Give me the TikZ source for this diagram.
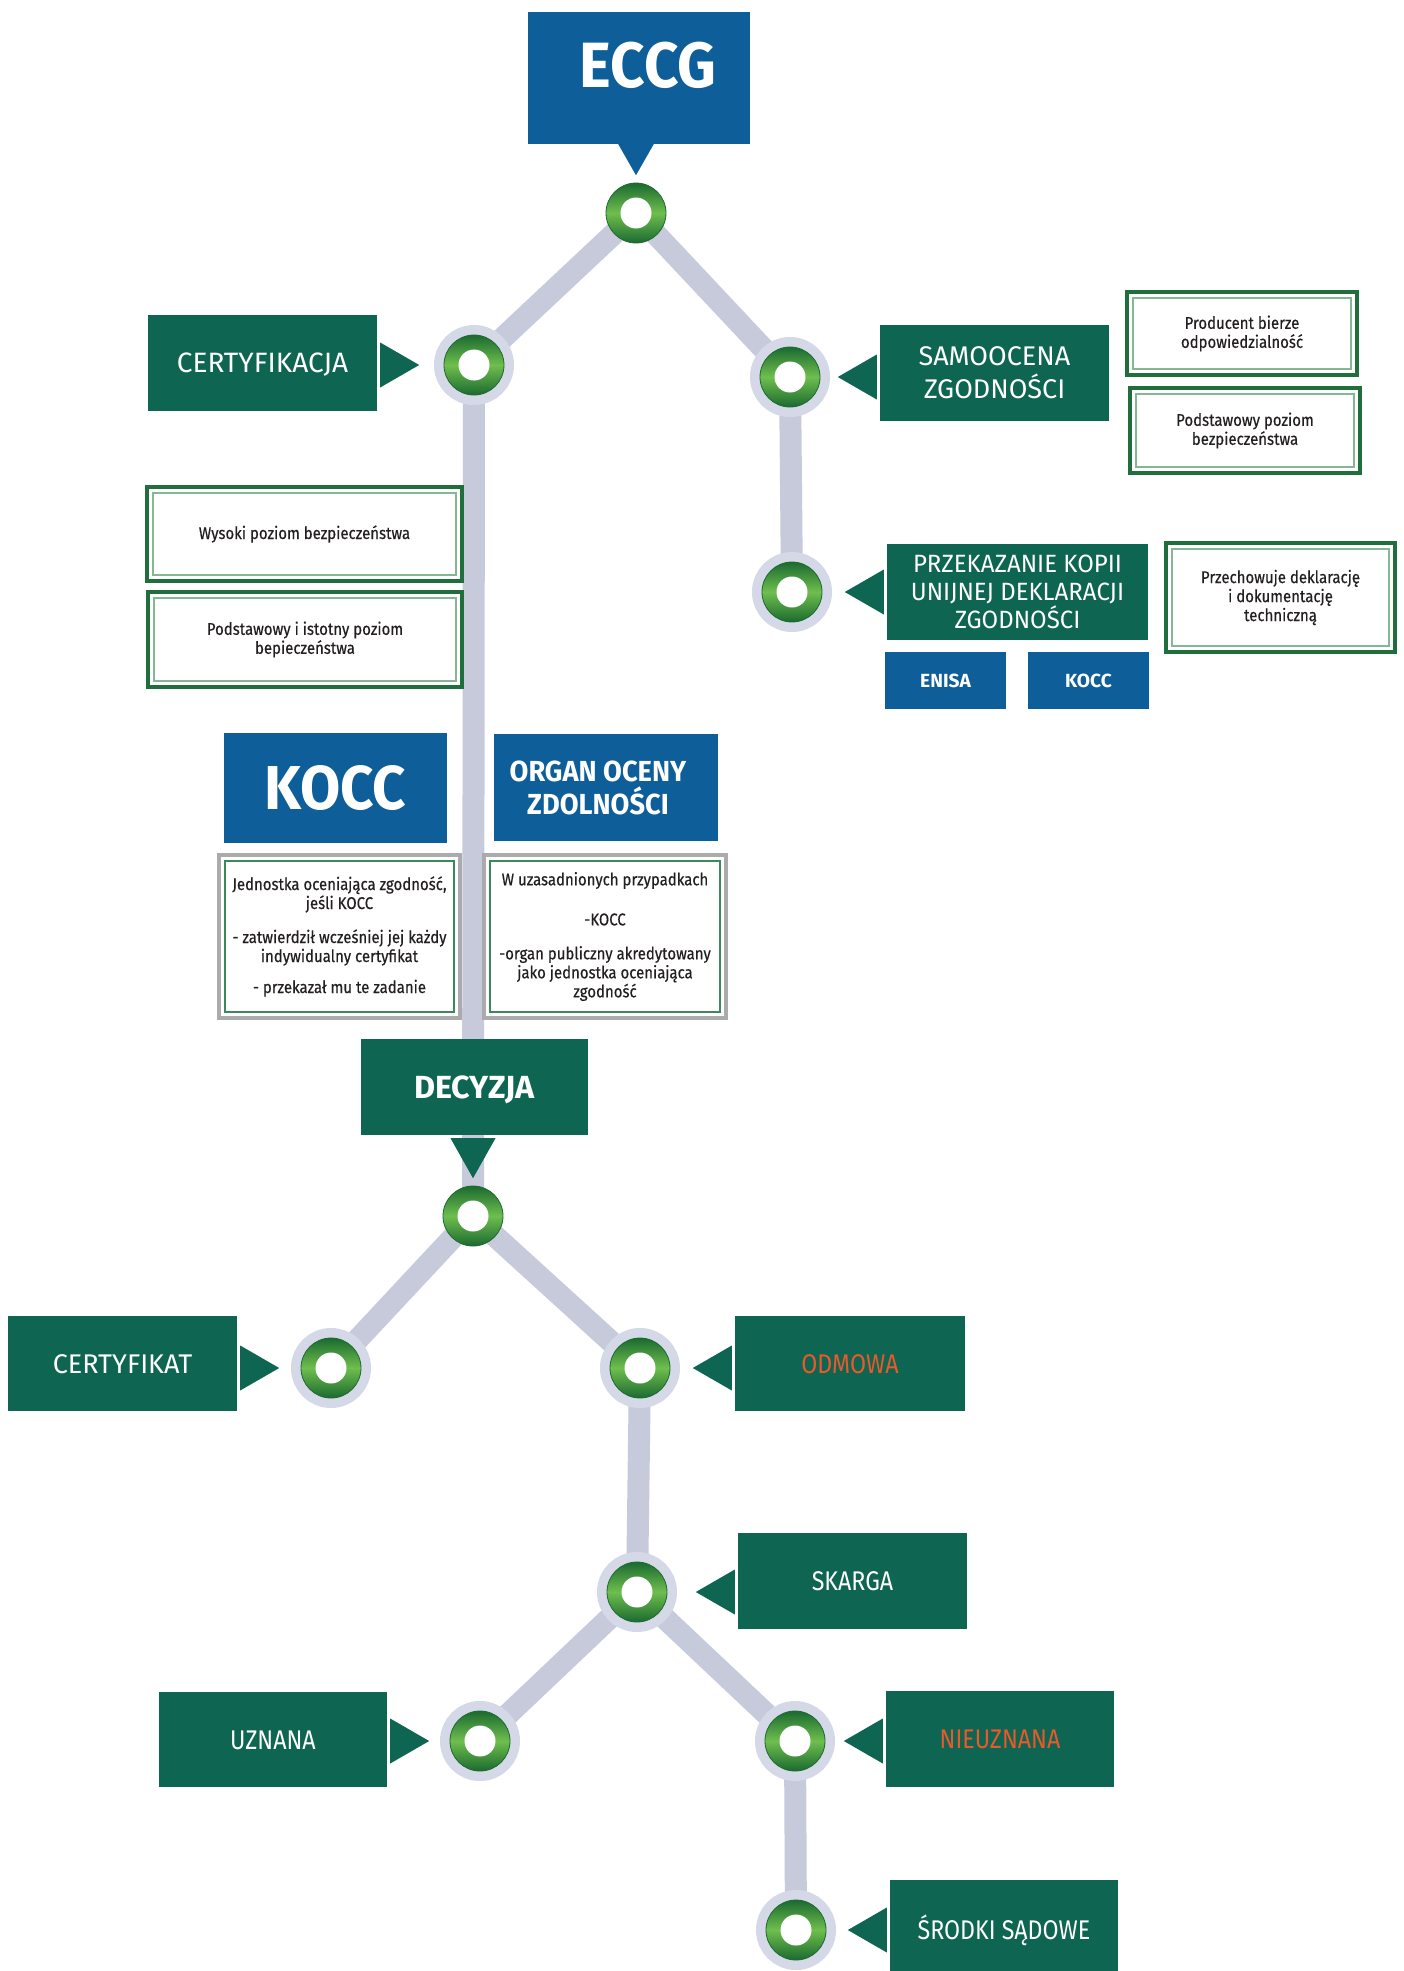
\documentclass[tikz,border=0pt]{standalone}
\usepackage{fontspec}
\setmainfont{Fira Sans}[FakeStretch=0.86]
\newfontfamily\wfont{Fira Sans}[FakeStretch=1.0]
\newfontfamily\mfont{Fira Sans}[FakeStretch=0.96]
\newfontfamily\bbig{Fira Sans}[FakeStretch=0.94]
\newfontfamily\bwide{Fira Sans}[FakeStretch=1.01]
\newfontfamily\sfnt{Fira Sans}[FakeStretch=0.88, FakeBold=0.4]
\usetikzlibrary{calc,backgrounds}
\definecolor{gc}{HTML}{0E6551}
\definecolor{bc}{HTML}{0E5E9A}
\definecolor{trk}{HTML}{C6CADB}
\definecolor{haloc}{HTML}{D5D8E6}
\definecolor{rgD}{HTML}{1B6A30}
\definecolor{rgL}{HTML}{6FBE4E}
\definecolor{orng}{HTML}{E8592B}
\definecolor{brdG}{HTML}{1F6E3C}
\definecolor{brdL}{HTML}{86B795}
\definecolor{brdGr}{HTML}{ABABAB}
\definecolor{brdI}{HTML}{3C8A5C}
\definecolor{txt}{HTML}{231F20}
\newcommand\ptrR[2]{\fill[gc] ($(#1.east |- #2)+(3,-22.5)$) -- ($(#1.east |- #2)+(42,0)$) -- ($(#1.east |- #2)+(3,22.5)$) -- cycle;}
\newcommand\ptrL[2]{\fill[gc] ($(#1.west |- #2)+(-3,-22.5)$) -- ($(#1.west |- #2)+(-42,0)$) -- ($(#1.west |- #2)+(-3,22.5)$) -- cycle;}
\begin{document}
\begin{tikzpicture}[x=1pt,y=-1pt,
  gbox/.style={fill=gc, text=white, inner sep=0pt, align=center, font=\fontsize{27}{31}\selectfont},
  one/.style={text height=19pt, text depth=0pt},
  bbox/.style={fill=bc, text=white, inner sep=0pt, align=center},
  stop/.style={circle, minimum size=60pt, inner sep=0pt, draw=rgD, line width=0.8pt,
     top color=rgD, bottom color=rgD, middle color=rgL,
     path picture={\fill[white] (path picture bounding box.center) circle (15.5pt);}},
  stoph/.style={stop, preaction={draw=haloc, line width=20pt}},
  track/.style={draw=trk, line width=22pt},
  dbl/.style 2 args={fill=white, draw=#1, line width=3.5pt, inner sep=0pt, align=center, text=txt,
     font=\sfnt\fontsize{17}{19}\selectfont,
     path picture={\draw[draw=#2, line width=1.2pt] ([shift={(6pt,-6pt)}]path picture bounding box.north west) rectangle ([shift={(-6pt,6pt)}]path picture bounding box.south east);}},
]
\useasboundingbox (0,0) rectangle (1404,1971);

% stops
\node[stop]  (c0)  at (636,213)  {};
\node[stoph] (c1)  at (474,365)  {};
\node[stoph] (c2)  at (790,377)  {};
\node[stoph] (c3)  at (792,592)  {};
\node[stop]  (c4)  at (473,1216) {};
\node[stoph] (c5)  at (331,1368) {};
\node[stoph] (c6)  at (640,1368) {};
\node[stoph] (c7)  at (637,1592) {};
\node[stoph] (c8)  at (480,1741) {};
\node[stoph] (c9)  at (795,1741) {};
\node[stoph] (c10) at (796,1930) {};

\begin{pgfonlayer}{background}
\draw[track] (c0.center) -- (c1.center);
\draw[track] (c0.center) -- (c2.center);
\draw[track] (c2.center) -- (c3.center);
\draw[track] (c1.center) -- (c4.center);
\draw[track] (c4.center) -- (c5.center);
\draw[track] (c4.center) -- (c6.center);
\draw[track] (c6.center) -- (c7.center);
\draw[track] (c7.center) -- (c8.center);
\draw[track] (c7.center) -- (c9.center);
\draw[track] (c9.center) -- (c10.center);
\end{pgfonlayer}

% top
\node[bbox, minimum width=222pt, minimum height=132pt, font=\bbig\bfseries\fontsize{64}{64}\selectfont, text height=44pt, text depth=26pt] (eccg) at (639,78) {\rule{18pt}{0pt}ECCG};
\fill[bc] ($(eccg.south -| c0)+(-18,-0.5)$) -- ($(eccg.south -| c0)+(0,31)$) -- ($(eccg.south -| c0)+(18,-0.5)$) -- cycle;

% certyfikacja branch
\node[gbox, one, minimum width=229pt, minimum height=96pt, font=\wfont\fontsize{28}{31}\selectfont] (cert) at (262.5,363) {CERTYFIKACJA};
\ptrR{cert}{c1}
\node[dbl={brdG}{brdL}, minimum width=315pt, minimum height=94pt] (wys) at (304.5,534) {Wysoki poziom bezpieczeństwa};
\node[dbl={brdG}{brdL}, minimum width=314pt, minimum height=95pt] (podist) at (305,639.5) {Podstawowy i istotny poziom\\bepieczeństwa};

\node[bbox, minimum width=223pt, minimum height=110pt, font=\bbig\bfseries\fontsize{62}{62}\selectfont, text height=43pt, text depth=0pt] (koccB) at (335.5,788) {KOCC};
\node[bbox, minimum width=224pt, minimum height=107pt, font=\bbig\bfseries\fontsize{29}{33}\selectfont] (organ) at (606,787.5) {ORGAN OCENY\rule{16pt}{0pt}\\ZDOLNOŚCI\rule{16pt}{0pt}};
\node[dbl={brdGr}{brdI}, minimum width=241pt, minimum height=163pt] (kdesc) at (339.5,936.5)
  {Jednostka oceniająca zgodność,\\jeśli KOCC\\[15pt]- zatwierdził wcześniej jej każdy\\indywidualny certyfikat\\[12pt]- przekazał mu te zadanie};
\node[dbl={brdGr}{brdI}, minimum width=242pt, minimum height=163pt] (wdesc) at (605,936.5)
  {W uzasadnionych przypadkach\\[21pt]-KOCC\\[15pt]-organ publiczny akredytowany\\jako jednostka oceniająca\\zgodność};

% samoocena branch
\node[gbox, minimum width=229pt, minimum height=96pt, font=\wfont\fontsize{27}{33}\selectfont] (samo) at (994.5,373) {SAMOOCENA\\ZGODNOŚCI};
\ptrL{samo}{c2}
\node[dbl={brdG}{brdL}, minimum width=230pt, minimum height=83pt] (prod) at (1242,333.5) {Producent bierze\\odpowiedzialność};
\node[dbl={brdG}{brdL}, minimum width=230pt, minimum height=85pt] (podst) at (1245,430.5) {Podstawowy poziom\\bezpieczeństwa};
\node[gbox, minimum width=261pt, minimum height=96pt, font=\mfont\fontsize{25}{28}\selectfont] (przek) at (1017.5,592) {PRZEKAZANIE KOPII\\UNIJNEJ DEKLARACJI\\ZGODNOŚCI};
\ptrL{przek}{c3}
\node[bbox, minimum width=121pt, minimum height=57pt, font=\bwide\bfseries\fontsize{19}{19}\selectfont, text height=13pt, text depth=0pt] (enisa) at (945.5,680.5) {ENISA};
\node[bbox, minimum width=121pt, minimum height=57pt, font=\bwide\bfseries\fontsize{19}{19}\selectfont, text height=13pt, text depth=0pt] (koccS) at (1088.5,680.5) {KOCC};
\node[dbl={brdG}{brdL}, minimum width=229pt, minimum height=109pt] (przech) at (1280.5,597.5) {Przechowuje deklarację\\i dokumentację\\techniczną};

% decyzja
\node[gbox, minimum width=227pt, minimum height=96pt, font=\bwide\bfseries\fontsize{32}{32}\selectfont, text height=22pt, text depth=0pt] (dec) at (474.5,1087) {DECYZJA};
\fill[gc] ($(dec.south -| c4)+(-22.5,3)$) -- ($(dec.south -| c4)+(0,43)$) -- ($(dec.south -| c4)+(22.5,3)$) -- cycle;

\node[gbox, one, minimum width=229pt, minimum height=95pt, font=\wfont\fontsize{27}{31}\selectfont] (certyf) at (122.5,1363.5) {CERTYFIKAT};
\ptrR{certyf}{c5}
\node[gbox, one, minimum width=230pt, minimum height=95pt, text=orng] (odm) at (850,1363.5) {ODMOWA};
\ptrL{odm}{c6}
\node[gbox, one, minimum width=229pt, minimum height=96pt] (skarga) at (852.5,1581) {SKARGA};
\ptrL{skarga}{c7}
\node[gbox, one, minimum width=228pt, minimum height=95pt] (uzn) at (273,1739.5) {UZNANA};
\ptrR{uzn}{c8}
\node[gbox, one, minimum width=228pt, minimum height=96pt, text=orng] (nieuzn) at (1000,1739) {NIEUZNANA};
\ptrL{nieuzn}{c9}
\node[gbox, one, minimum width=228pt, minimum height=100pt] (srod) at (1004,1930) {ŚRODKI SĄDOWE};
\ptrL{srod}{c10}
\end{tikzpicture}
\end{document}
